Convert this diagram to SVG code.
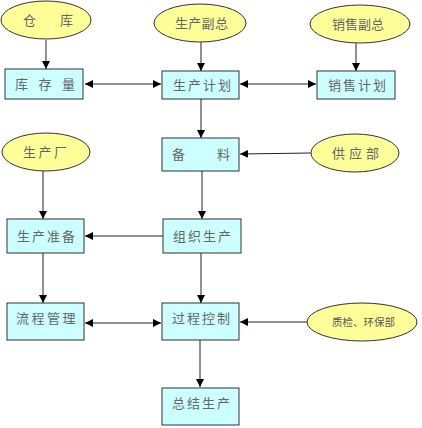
<svg xmlns="http://www.w3.org/2000/svg" width="422" height="428" viewBox="0 0 422 428">
<style>
.ell{fill:#FFFF99;stroke:#333;stroke-width:1}
.box{fill:#CCFFFF;stroke:#333;stroke-width:1}
text{font-family:"Noto Sans CJK SC","Noto Sans",sans-serif;font-size:13px;fill:#666}
.sm{font-size:10.5px;fill:#555}
.c line{stroke:#222;stroke-width:1}
</style>
<defs>
<marker id="ah" viewBox="0 0 10 10" refX="10" refY="5" markerWidth="8" markerHeight="8" markerUnits="userSpaceOnUse" orient="auto-start-reverse">
<path d="M0,0 L10,5 L0,10 z" fill="#000"/>
</marker>
</defs>
<rect width="422" height="428" fill="#fff"/>
<g class="c">
<line x1="46" y1="40" x2="46" y2="69" marker-end="url(#ah)"/>
<line x1="201" y1="42" x2="201" y2="71" marker-end="url(#ah)"/>
<line x1="356" y1="43" x2="356" y2="71" marker-end="url(#ah)"/>
<line x1="85" y1="84" x2="161" y2="84" marker-start="url(#ah)" marker-end="url(#ah)"/>
<line x1="240" y1="84" x2="316" y2="84" marker-start="url(#ah)" marker-end="url(#ah)"/>
<line x1="201" y1="99" x2="201" y2="138" marker-end="url(#ah)"/>
<line x1="311" y1="153" x2="240" y2="154" marker-end="url(#ah)"/>
<line x1="43" y1="171" x2="43" y2="219" marker-end="url(#ah)"/>
<line x1="202" y1="171" x2="202" y2="219" marker-end="url(#ah)"/>
<line x1="163" y1="236" x2="85" y2="236" marker-end="url(#ah)"/>
<line x1="43" y1="253" x2="43" y2="303" marker-end="url(#ah)"/>
<line x1="201" y1="253" x2="201" y2="303" marker-end="url(#ah)"/>
<line x1="85" y1="323" x2="161" y2="323" marker-start="url(#ah)" marker-end="url(#ah)"/>
<line x1="307" y1="322" x2="240" y2="322" marker-end="url(#ah)"/>
<line x1="200" y1="340" x2="200" y2="387" marker-end="url(#ah)"/>
</g>
<g id="cangku"><ellipse class="ell" cx="46" cy="20" rx="45" ry="19"/><text x="23" y="25">仓</text><text x="60" y="25">库</text></g>
<g id="shengchanfuzong"><ellipse class="ell" cx="200" cy="23" rx="46" ry="19"/><text x="175" y="28" letter-spacing="0.3">生产副总</text></g>
<g id="xiaoshoufuzong"><ellipse class="ell" cx="360" cy="24" rx="50" ry="19"/><text x="332" y="29" letter-spacing="0">销售副总</text></g>
<g id="kucunliang"><rect class="box" x="5" y="69" width="78" height="30"/><text x="15" y="89" letter-spacing="10.5">库存量</text></g>
<g id="shengchanjihua"><rect class="box" x="162" y="71" width="77" height="28"/><text x="173" y="90" letter-spacing="2">生产计划</text></g>
<g id="xiaoshoujihua"><rect class="box" x="317" y="71" width="78" height="28"/><text x="328" y="90" letter-spacing="2">销售计划</text></g>
<g id="shengchanchang"><ellipse class="ell" cx="46" cy="152" rx="44" ry="19"/><text x="23" y="157" letter-spacing="2.5">生产厂</text></g>
<g id="beiliao"><rect class="box" x="162" y="138" width="77" height="33"/><text x="172" y="159">备</text><text x="217" y="159">料</text></g>
<g id="gongyingbu"><ellipse class="ell" cx="355" cy="153" rx="44" ry="19"/><text x="332" y="158" letter-spacing="4">供应部</text></g>
<g id="shengchanzhunbei"><rect class="box" x="7" y="219" width="77" height="34"/><text x="17" y="241" letter-spacing="2">生产准备</text></g>
<g id="zuzhishengchan"><rect class="box" x="163" y="219" width="78" height="34"/><text x="173" y="241" letter-spacing="2">组织生产</text></g>
<g id="liuchengguanli"><rect class="box" x="7" y="303" width="77" height="37"/><text x="16" y="323" letter-spacing="2.5">流程管理</text></g>
<g id="guochengkongzhi"><rect class="box" x="162" y="303" width="77" height="37"/><text x="172" y="323" letter-spacing="2">过程控制</text></g>
<g id="zhijianhuanbaobu"><ellipse class="ell" cx="362" cy="322" rx="55" ry="19"/><text class="sm" x="332" y="326">质检、环保部</text></g>
<g id="zongjieshengchan"><rect class="box" x="162" y="388" width="77" height="37"/><text x="172" y="408" letter-spacing="2">总结生产</text></g>
</svg>
